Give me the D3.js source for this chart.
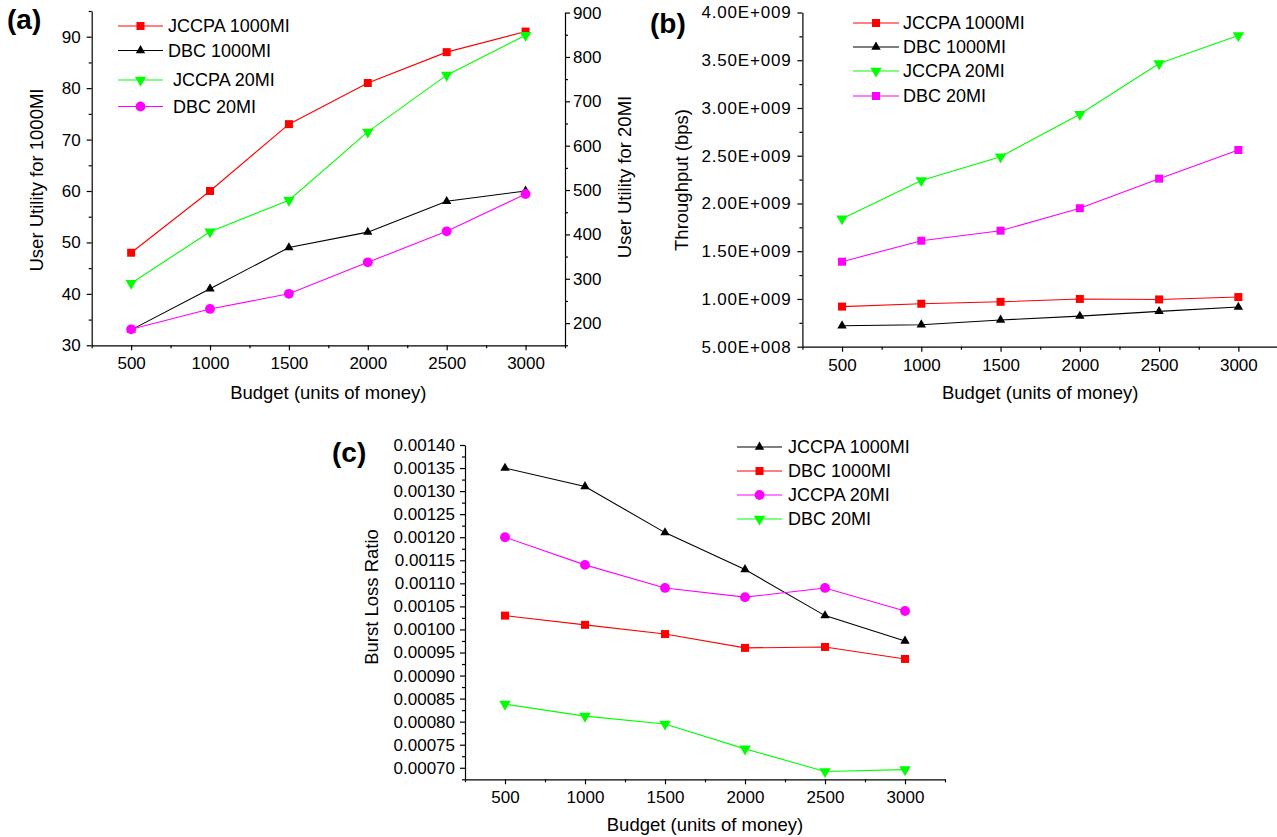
<!DOCTYPE html>
<html>
<head>
<meta charset="utf-8">
<script src="https://cdn.jsdelivr.net/npm/d3@7"></script>
<style>
    body { margin: 0; background: #fff; }
    svg { display: block; font-family: "Liberation Sans", Arial, sans-serif; }
    .axis path, .axis line { stroke: #000; stroke-width: 1.2; }
    .axis text { font-size: 17px; fill: #000; font-family: "Liberation Sans", Arial, sans-serif; }
    .axis.wide text { letter-spacing: 0.8px; }
    .title { font-size: 18.5px; }
    .legend text { font-size: 18px; }
    .tag { font-size: 28px; font-weight: bold; }
</style>
</head>
<body>
<svg id="chart" width="1277" height="837"></svg>
<script>
// ---- data ----
const budgets = [500, 1000, 1500, 2000, 2500, 3000];
const budgetTicks = [500, 1000, 1500, 2000, 2500, 3000];

// (a) user utility; 1000MI on left axis, 20MI on right axis
const utilJccpa1000 = [48, 60, 73, 81, 87, 91];
const utilDbc1000 = [33, 41, 49, 52, 58, 60];
const utilJccpa20 = [290, 406, 477, 631, 759, 849];
const utilDbc20 = [186, 232, 266, 337, 407, 491];
const utilLeftTicks = [30, 40, 50, 60, 70, 80, 90];
const utilRightTicks = [200, 300, 400, 500, 600, 700, 800, 900];

// (b) throughput (bps)
const thrJccpa1000 = [0.92e9, 0.95e9, 0.97e9, 1.0e9, 0.995e9, 1.02e9];
const thrDbc1000 = [0.72e9, 0.73e9, 0.78e9, 0.82e9, 0.87e9, 0.915e9];
const thrJccpa20 = [1.84e9, 2.24e9, 2.49e9, 2.935e9, 3.465e9, 3.76e9];
const thrDbc20 = [1.39e9, 1.61e9, 1.715e9, 1.95e9, 2.26e9, 2.56e9];
const thrTicks = [5e8, 1e9, 1.5e9, 2e9, 2.5e9, 3e9, 3.5e9, 4e9];

// (c) burst loss ratio
const blrJccpa1000 = [0.00135, 0.00131, 0.00121, 0.00113, 0.00103, 0.000975];
const blrDbc1000 = [0.00103, 0.00101, 0.00099, 0.00096, 0.000962, 0.000936];
const blrJccpa20 = [0.00120, 0.00114, 0.00109, 0.00107, 0.00109, 0.00104];
const blrDbc20 = [0.000838, 0.000812, 0.000795, 0.000741, 0.000692, 0.000696];
const blrTicks = [0.0007, 0.00075, 0.0008, 0.00085, 0.0009, 0.00095, 0.001,
    0.00105, 0.0011, 0.00115, 0.0012, 0.00125, 0.0013, 0.00135, 0.0014];

const RED = "#ff0000", BLACK = "#000000", GREEN = "#00ff00", MAGENTA = "#ff00ff";

const shapes = {
    square: { type: d3.symbolSquare, size: 64, rot: 0 },
    triangle: { type: d3.symbolTriangle, size: 38, rot: 0 },
    down: { type: d3.symbolTriangle, size: 56, rot: 180 },
    circle: { type: d3.symbolCircle, size: 76, rot: 0 }
};

function expFormat(d) {
    const [m, e] = d.toExponential(2).split("e");
    const n = +e;
    return `${m}E${n < 0 ? "-" : "+"}${String(Math.abs(n)).padStart(3, "0")}`;
}

// minor ticks halfway between majors, across the whole domain
function minorTicks(domain, majors) {
    const half = (majors[1] - majors[0]) / 2;
    const n = Math.round((domain[1] - domain[0]) / half);
    return d3.range(n + 1)
        .map(i => domain[0] + i * half)
        .filter(v => !majors.some(m => Math.abs(m - v) < half * 1e-3));
}

class LinePanel {
    constructor(svg, box, xDomain) {
        this.svg = svg;
        this.box = box;
        this.xDomain = xDomain;
    }

    initialize() {
        this.container = this.svg.append("g");
        this.xScale = d3.scaleLinear().domain(this.xDomain).range([this.box.left, this.box.right]);
    }

    xAxis(ticks, title, titleY) {
        const b = this.box;
        this.container.append("g").attr("class", "axis")
            .attr("transform", `translate(0, ${b.bottom})`)
            .call(d3.axisBottom(this.xScale).tickValues(ticks).tickFormat(d3.format("d"))
                .tickSize(5).tickSizeOuter(0).tickPadding(7));
        this.container.append("g").attr("class", "axis")
            .attr("transform", `translate(0, ${b.bottom})`)
            .call(d3.axisBottom(this.xScale).tickValues(minorTicks(this.xDomain, ticks)).tickSize(3).tickFormat(""))
            .call(g => g.select(".domain").remove());
        this.container.append("text").attr("class", "title")
            .attr("x", (b.left + b.right) / 2).attr("y", titleY)
            .attr("text-anchor", "middle").text(title);
    }

    yAxis(scale, ticks, fmt, side, padding, title, titleX, titleY, cls = "") {
        const b = this.box;
        const x = side === "left" ? b.left : b.right;
        const make = side === "left" ? d3.axisLeft : d3.axisRight;
        this.container.append("g").attr("class", "axis " + cls)
            .attr("transform", `translate(${x}, 0)`)
            .call(make(scale).tickValues(ticks).tickFormat(fmt).tickSize(5).tickSizeOuter(0).tickPadding(padding));
        this.container.append("g").attr("class", "axis")
            .attr("transform", `translate(${x}, 0)`)
            .call(make(scale).tickValues(minorTicks(scale.domain(), ticks)).tickSize(3).tickFormat(""))
            .call(g => g.select(".domain").remove());
        this.container.append("text").attr("class", "title")
            .attr("transform", `translate(${titleX}, ${titleY}) rotate(-90)`)
            .attr("text-anchor", "middle").text(title);
    }

    series(values, yScale, color, shape) {
        const line = d3.line()
            .x((d, i) => this.xScale(budgets[i]))
            .y(d => yScale(d));
        this.container.append("path")
            .attr("d", line(values))
            .attr("fill", "none").attr("stroke", color).attr("stroke-width", 1.1);
        const s = shapes[shape];
        this.container.append("g").selectAll("path")
            .data(values)
            .join("path")
            .attr("d", d3.symbol().type(s.type).size(s.size))
            .attr("transform", (d, i) => `translate(${this.xScale(budgets[i])}, ${yScale(d)}) rotate(${s.rot})`)
            .attr("fill", color);
    }

    legend(items, x0, x1, textX, rows) {
        const lg = this.container.append("g").attr("class", "legend");
        items.forEach((it, i) => {
            const y = rows[i];
            const s = shapes[it.shape];
            lg.append("line").attr("x1", x0).attr("x2", x1).attr("y1", y).attr("y2", y)
                .attr("stroke", it.color).attr("stroke-width", 1.1);
            lg.append("path").attr("d", d3.symbol().type(s.type).size(s.size)())
                .attr("transform", `translate(${(x0 + x1) / 2}, ${y}) rotate(${s.rot})`)
                .attr("fill", it.color);
            lg.append("text").attr("x", textX + (it.dx || 0)).attr("y", y).attr("dy", "0.36em").text(it.name);
        });
    }

    tag(label, x, y) {
        this.svg.append("text").attr("class", "tag").attr("x", x).attr("y", y).text(label);
    }
}

const svg = d3.select("#chart");

// ---- (a) ----
const pa = new LinePanel(svg, { left: 91.7, right: 565, top: 11, bottom: 345.3 }, [250, 3250]);
pa.initialize();
const aLeft = d3.scaleLinear().domain([30, 95]).range([345.3, 11]);
const aRight = d3.scaleLinear().domain([150, 900]).range([345.3, 12.6]);
pa.xAxis(budgetTicks, "Budget (units of money)", 399);
pa.yAxis(aLeft, utilLeftTicks, d3.format("d"), "left", 6, "User Utility for 1000MI", 43, 180);
pa.yAxis(aRight, utilRightTicks, d3.format("d"), "right", 3, "User Utility for 20MI", 631, 177);
pa.series(utilJccpa1000, aLeft, RED, "square");
pa.series(utilDbc1000, aLeft, BLACK, "triangle");
pa.series(utilJccpa20, aRight, GREEN, "down");
pa.series(utilDbc20, aRight, MAGENTA, "circle");
pa.legend([
    { name: "JCCPA 1000MI", color: RED, shape: "square" },
    { name: "DBC 1000MI", color: BLACK, shape: "triangle" },
    { name: "JCCPA 20MI", color: GREEN, shape: "down", dx: 5 },
    { name: "DBC 20MI", color: MAGENTA, shape: "circle", dx: 5 }
], 118, 163, 168, [26, 50.5, 80, 106.5]);
pa.tag("(a)", 7, 29);

// ---- (b) ----
const pb = new LinePanel(svg, { left: 802.4, right: 1278, top: 11.7, bottom: 346.7 }, [250, 3250]);
pb.initialize();
const bY = d3.scaleLinear().domain([5e8, 4e9]).range([346.7, 12.5]);
pb.xAxis(budgetTicks, "Budget (units of money)", 399);
pb.yAxis(bY, thrTicks, expFormat, "left", 6, "Throughput (bps)", 688, 180, "wide");
pb.series(thrJccpa1000, bY, RED, "square");
pb.series(thrDbc1000, bY, BLACK, "triangle");
pb.series(thrJccpa20, bY, GREEN, "down");
pb.series(thrDbc20, bY, MAGENTA, "square");
pb.legend([
    { name: "JCCPA 1000MI", color: RED, shape: "square" },
    { name: "DBC 1000MI", color: BLACK, shape: "triangle" },
    { name: "JCCPA 20MI", color: GREEN, shape: "down" },
    { name: "DBC 20MI", color: MAGENTA, shape: "square" }
], 853, 899, 903, [23, 47, 71, 96]);
pb.tag("(b)", 650, 33);

// ---- (c) ----
const pc = new LinePanel(svg, { left: 465, right: 945, top: 445, bottom: 779.3 }, [250, 3250]);
pc.initialize();
const cY = d3.scaleLinear().domain([0.000675, 0.0014]).range([779.3, 445]);
pc.xAxis(budgetTicks, "Budget (units of money)", 831);
pc.yAxis(cY, blrTicks, d3.format(".5f"), "left", 5, "Burst Loss Ratio", 378, 597);
pc.series(blrJccpa1000, cY, BLACK, "triangle");
pc.series(blrDbc1000, cY, RED, "square");
pc.series(blrJccpa20, cY, MAGENTA, "circle");
pc.series(blrDbc20, cY, GREEN, "down");
pc.legend([
    { name: "JCCPA 1000MI", color: BLACK, shape: "triangle" },
    { name: "DBC 1000MI", color: RED, shape: "square" },
    { name: "JCCPA 20MI", color: MAGENTA, shape: "circle" },
    { name: "DBC 20MI", color: GREEN, shape: "down" }
], 737, 782, 788, [447, 471, 495, 519]);
pc.tag("(c)", 332, 462);
</script>
</body>
</html>
